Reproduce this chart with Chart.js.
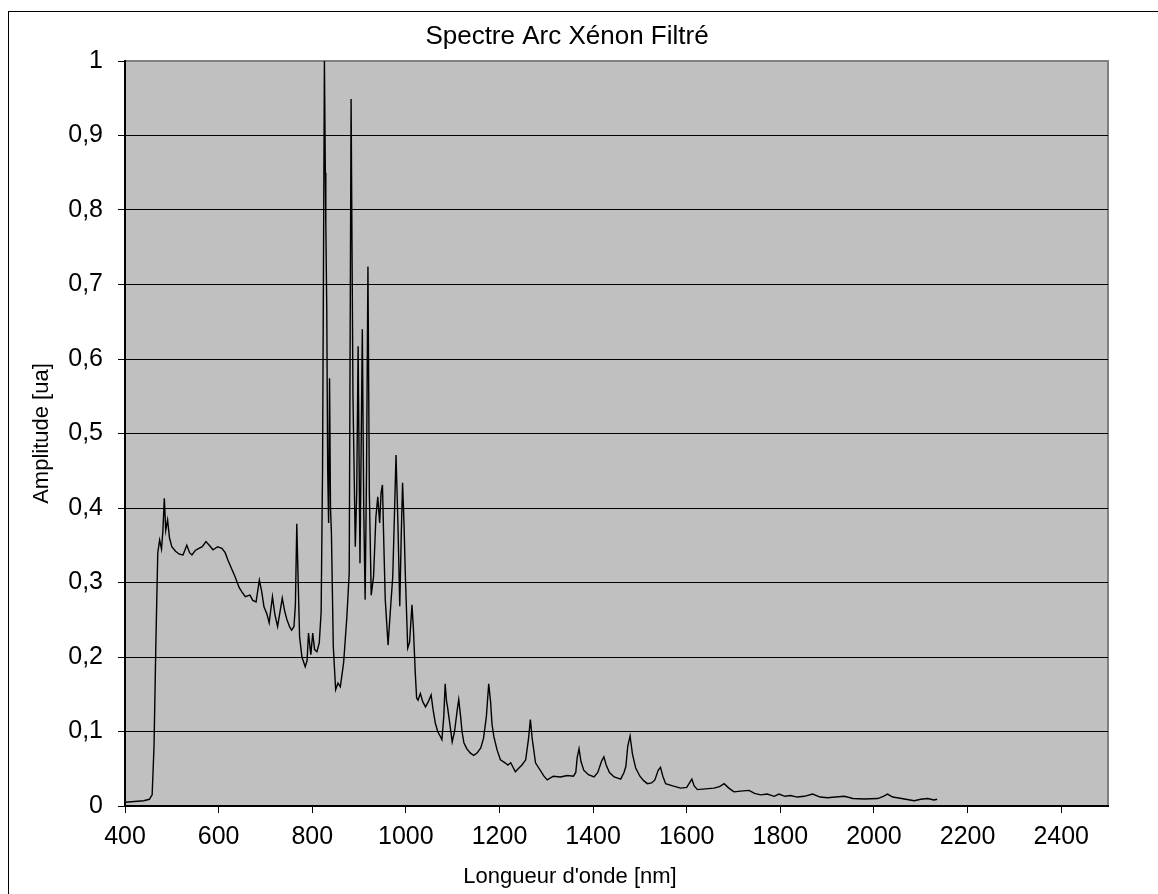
<!DOCTYPE html>
<html>
<head>
<meta charset="utf-8">
<title>Spectre Arc Xénon Filtré</title>
<script src="https://cdn.jsdelivr.net/npm/chart.js@4.4.1/dist/chart.umd.min.js"></script>
<style>
  html, body { margin: 0; padding: 0; background: #fff; }
  #wrap { width: 1158px; height: 894px; }
</style>
</head>
<body>
<div id="wrap"><canvas id="myChart" width="1158" height="894"></canvas></div>
<script>
// longueurs d'onde [nm] et amplitudes
const wavelengths = [
  400, 420, 440, 452, 458, 462, 466, 470, 474, 478, 481, 484, 487, 491, 495, 500,
  508, 516, 524, 532, 538, 543, 550, 556, 565, 573, 580, 588, 598, 607, 614, 620,
  628, 635, 644, 650, 657, 667, 673, 680, 687, 692, 697, 703, 708, 715, 720, 726,
  736, 741, 746, 752, 756, 761, 764, 767, 770, 773, 778, 785, 789, 792, 797, 801,
  805, 810, 815, 819, 822, 826, 828, 829, 831, 833, 835, 837, 839, 841, 845, 850,
  855, 860, 867, 874, 879, 883, 887, 892, 895, 898, 902, 907, 910, 913, 916, 919,
  922, 926, 931, 936, 940, 944, 947, 950, 953, 956, 962, 967, 972, 976, 979, 983,
  987, 990, 993, 996, 999, 1004, 1008, 1013, 1016, 1020, 1023, 1026, 1031, 1036, 1042, 1048,
  1054, 1058, 1063, 1068, 1074, 1077, 1081, 1084, 1087, 1089, 1094, 1099, 1104, 1110, 1113, 1117,
  1120, 1124, 1130, 1138, 1145, 1152, 1160, 1166, 1172, 1177, 1181, 1184, 1188, 1195, 1202, 1212,
  1218, 1224, 1234, 1240, 1248, 1256, 1262, 1266, 1270, 1277, 1285, 1295, 1302, 1315, 1330, 1345,
  1358, 1363, 1366, 1370, 1374, 1380, 1390, 1402, 1410, 1418, 1423, 1428, 1435, 1445, 1459, 1466,
  1470, 1474, 1479, 1484, 1491, 1500, 1508, 1516, 1525, 1532, 1539, 1544, 1549, 1555, 1570, 1587,
  1600, 1607, 1611, 1616, 1623, 1640, 1658, 1670, 1680, 1690, 1701, 1715, 1733, 1745, 1758, 1772,
  1787, 1797, 1810, 1822, 1836, 1851, 1869, 1885, 1901, 1918, 1937, 1955, 1979, 2008, 2020, 2029,
  2040, 2050, 2068, 2086, 2100, 2115, 2128, 2135
];
const amplitudes = [
  0.005, 0.006, 0.007, 0.009, 0.015, 0.08, 0.22, 0.34, 0.357, 0.345, 0.37, 0.413, 0.37, 0.384, 0.36, 0.348,
  0.342, 0.338, 0.337, 0.350, 0.340, 0.337, 0.343, 0.345, 0.348, 0.355, 0.350, 0.344, 0.348, 0.346, 0.340, 0.330,
  0.318, 0.308, 0.293, 0.287, 0.281, 0.283, 0.276, 0.274, 0.303, 0.288, 0.267, 0.258, 0.246, 0.281, 0.258, 0.241,
  0.279, 0.262, 0.250, 0.240, 0.236, 0.241, 0.27, 0.379, 0.30, 0.227, 0.200, 0.187, 0.195, 0.232, 0.203, 0.232,
  0.210, 0.207, 0.219, 0.26, 0.45, 1.0, 0.85, 0.78, 0.67, 0.45, 0.38, 0.574, 0.40, 0.366, 0.214, 0.156,
  0.165, 0.16, 0.192, 0.254, 0.313, 0.949, 0.55, 0.348, 0.42, 0.617, 0.326, 0.640, 0.40, 0.277, 0.45, 0.724,
  0.42, 0.283, 0.308, 0.388, 0.415, 0.38, 0.42, 0.431, 0.35, 0.277, 0.216, 0.263, 0.308, 0.40, 0.471, 0.38,
  0.268, 0.36, 0.434, 0.38, 0.308, 0.212, 0.22, 0.270, 0.24, 0.18, 0.145, 0.142, 0.151, 0.14, 0.133, 0.14,
  0.149, 0.13, 0.111, 0.10, 0.093, 0.089, 0.12, 0.164, 0.14, 0.133, 0.11, 0.086, 0.10, 0.13, 0.143, 0.12,
  0.10, 0.085, 0.077, 0.071, 0.068, 0.071, 0.078, 0.091, 0.12, 0.164, 0.14, 0.11, 0.093, 0.075, 0.062, 0.058,
  0.055, 0.058, 0.046, 0.05, 0.055, 0.062, 0.09, 0.116, 0.09, 0.058, 0.05, 0.04, 0.035, 0.040, 0.039, 0.041,
  0.040, 0.045, 0.065, 0.077, 0.06, 0.048, 0.042, 0.039, 0.045, 0.060, 0.066, 0.055, 0.045, 0.039, 0.036, 0.045,
  0.053, 0.080, 0.094, 0.07, 0.051, 0.040, 0.034, 0.030, 0.031, 0.035, 0.048, 0.052, 0.040, 0.030, 0.027, 0.024,
  0.025, 0.032, 0.036, 0.027, 0.022, 0.023, 0.024, 0.026, 0.030, 0.024, 0.019, 0.020, 0.021, 0.017, 0.015, 0.016,
  0.013, 0.016, 0.013, 0.014, 0.012, 0.013, 0.016, 0.012, 0.011, 0.012, 0.013, 0.010, 0.0094, 0.010, 0.013, 0.016,
  0.012, 0.011, 0.009, 0.007, 0.009, 0.010, 0.008, 0.009
];
const xTicks = [400, 600, 800, 1000, 1200, 1400, 1600, 1800, 2000, 2200, 2400];
const chartTitle = 'Spectre Arc Xénon Filtré';
const xTitle = "Longueur d'onde [nm]";
const yTitle = 'Amplitude [ua]';

const points = wavelengths.map((w, i) => ({ x: w, y: amplitudes[i] }));

const FONT = 'Arial, "Liberation Sans", sans-serif';

// fond gris de la zone de tracé, cadre, titres centrés sur le graphique Excel
const plotFrame = {
  id: 'plotFrame',
  beforeDraw(chart) {
    const { ctx, chartArea: a } = chart;
    ctx.save();
    ctx.fillStyle = '#C0C0C0';
    ctx.fillRect(a.left, a.top, a.right - a.left, a.bottom - a.top);
    ctx.strokeStyle = '#808080';
    ctx.lineWidth = 2;
    ctx.strokeRect(a.left, a.top, a.right - a.left, a.bottom - a.top);
    ctx.restore();
  },
  afterDraw(chart) {
    const ctx = chart.ctx;
    ctx.save();
    ctx.strokeStyle = '#000';
    ctx.lineWidth = 1;
    ctx.strokeRect(8.5, 11.5, 1200, 1000);
    ctx.fillStyle = '#000';
    ctx.textAlign = 'center';
    ctx.textBaseline = 'middle';
    ctx.font = '26px ' + FONT;
    ctx.fillText(chartTitle, 567, 37);
    ctx.font = '22px ' + FONT;
    ctx.fillText(xTitle, 570, 877);
    ctx.restore();
  }
};

const ctx = document.getElementById('myChart').getContext('2d');

new Chart(ctx, {
  type: 'line',
  data: {
    datasets: [{
      data: points,
      borderColor: '#000',
      borderWidth: 1.4,
      pointRadius: 0,
      fill: false,
      tension: 0
    }]
  },
  options: {
    responsive: false,
    animation: false,
    events: [],
    layout: { padding: { left: 8, top: 61, right: 50, bottom: 0 } },
    plugins: {
      legend: { display: false },
      tooltip: { enabled: false },
      title: { display: false }
    },
    scales: {
      x: {
        type: 'linear',
        min: 400,
        max: 2500,
        afterFit(scale) { scale.height = 88; },
        afterBuildTicks(scale) { scale.ticks = xTicks.map(v => ({ value: v })); },
        ticks: {
          color: '#000',
          padding: 9,
          font: { family: FONT, size: 25 },
          maxRotation: 0,
          callback: v => String(v)
        },
        grid: { drawOnChartArea: false, color: '#000', tickLength: 7, lineWidth: 1 },
        border: { color: '#000', width: 2 }
      },
      y: {
        min: 0,
        max: 1,
        afterFit(scale) { scale.width = 117; },
        ticks: {
          stepSize: 0.1,
          color: '#000',
          padding: 15,
          font: { family: FONT, size: 25 },
          callback: v => {
            const r = Math.round(v * 10) / 10;
            return r === 0 || r === 1 ? String(r) : r.toFixed(1).replace('.', ',');
          }
        },
        grid: {
          color: c => (c.tick && Math.round(c.tick.value * 10) === 10 ? '#808080' : '#000'),
          tickColor: '#000',
          tickLength: 7,
          lineWidth: 1
        },
        border: { color: '#000', width: 2 },
        title: {
          display: true,
          text: yTitle,
          color: '#000',
          font: { family: FONT, size: 22 },
          padding: { top: 21, bottom: 0 }
        }
      }
    }
  },
  plugins: [plotFrame]
});
</script>
</body>
</html>
